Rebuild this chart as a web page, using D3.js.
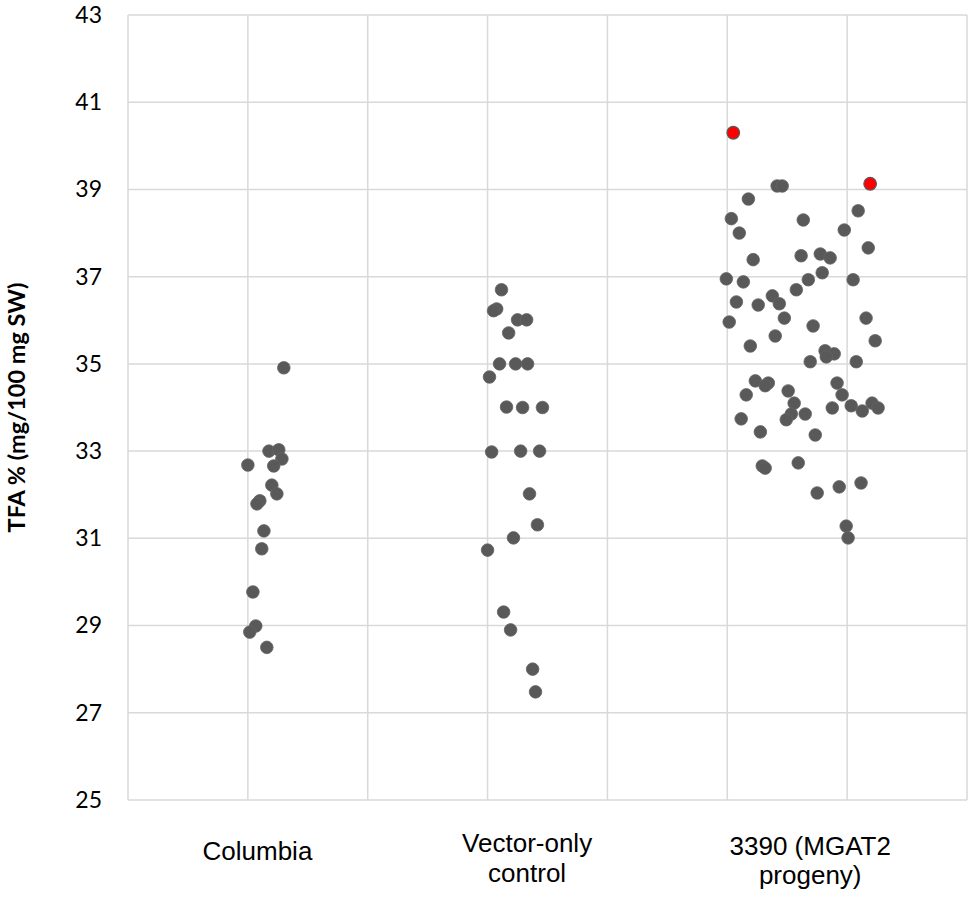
<!DOCTYPE html>
<html>
<head>
<meta charset="utf-8">
<script src="https://cdn.jsdelivr.net/npm/d3@7"></script>
<style>
	body { margin: 0; background: #fff; }
	svg { display: block; }
	.grid line { stroke: #d9d9d9; stroke-width: 1.5; }
	.ytick text { font-family: Lato, "Open Sans", sans-serif; font-size: 23px; fill: #000; }
	.cat text { font-family: "Liberation Sans", Arial, sans-serif; font-size: 26px; fill: #000; }
	.ytitle { font-family: Lato, "Open Sans", sans-serif; font-size: 23.5px; font-weight: bold; fill: #000; }
</style>
</head>
<body>
<svg id="chart"></svg>
<script>
const Width = 975;
const Height = 899;

// y range and ticks
const yDomain = [25, 43];
const yTicks = [25, 27, 29, 31, 33, 35, 37, 39, 41, 43];
// x is a numeric axis, groups sit at 1, 2, 3 with jitter
const xDomain = [0.5, 4];
const xGrid = [0.5, 1, 1.5, 2, 2.5, 3, 3.5, 4];

const categories = [
	["Columbia"],
	["Vector-only", "control"],
	["3390 (MGAT2", "progeny)"]
];
const categoryAt = [1.04, 2.165, 3.346];

// [x, TFA %]
const columbia = [
	[1.150, 34.91], [1.088, 33.00], [1.129, 33.03], [1.142, 32.82], [1.000, 32.68],
	[1.108, 32.66], [1.100, 32.22], [1.121, 32.02], [1.050, 31.86], [1.038, 31.79],
	[1.067, 31.17], [1.058, 30.76], [1.021, 29.77], [1.033, 28.99], [1.008, 28.85],
	[1.079, 28.50]
];
const vectorOnly = [
	[2.058, 36.70], [2.038, 36.26], [2.025, 36.22], [2.125, 36.01], [2.163, 36.01],
	[2.088, 35.71], [2.050, 35.00], [2.117, 35.00], [2.167, 35.00], [2.008, 34.70],
	[2.079, 34.01], [2.146, 34.00], [2.229, 34.00], [2.017, 32.98], [2.138, 33.00],
	[2.217, 33.00], [2.175, 32.02], [2.208, 31.31], [2.108, 31.01], [2.000, 30.73],
	[2.067, 29.31], [2.096, 28.90], [2.188, 28.00], [2.200, 27.48]
];
const progeny3390 = [
	[3.208, 39.08], [3.229, 39.08], [3.088, 38.78], [3.546, 38.51], [3.017, 38.33],
	[3.317, 38.30], [3.050, 38.00], [3.488, 38.07], [3.588, 37.66], [3.108, 37.39],
	[3.308, 37.48], [3.388, 37.52], [3.429, 37.43], [2.996, 36.95], [3.067, 36.88],
	[3.396, 37.09], [3.338, 36.93], [3.525, 36.93], [3.288, 36.70], [3.188, 36.56],
	[3.217, 36.38], [3.038, 36.42], [3.129, 36.35], [3.008, 35.96], [3.238, 36.05],
	[3.579, 36.05], [3.358, 35.87], [3.200, 35.64], [3.617, 35.53], [3.096, 35.41],
	[3.408, 35.30], [3.446, 35.23], [3.413, 35.16], [3.346, 35.05], [3.538, 35.05],
	[3.117, 34.61], [3.171, 34.56], [3.158, 34.50], [3.458, 34.56], [3.079, 34.29],
	[3.254, 34.38], [3.479, 34.29], [3.279, 34.10], [3.438, 33.99], [3.517, 34.04],
	[3.563, 33.92], [3.604, 34.10], [3.629, 33.99], [3.058, 33.74], [3.267, 33.85],
	[3.246, 33.72], [3.325, 33.85], [3.138, 33.44], [3.367, 33.37], [3.146, 32.66],
	[3.158, 32.61], [3.296, 32.73], [3.558, 32.27], [3.467, 32.18], [3.375, 32.04],
	[3.496, 31.28], [3.504, 31.01]
];
// the two progeny plants marked in red
const highlighted = [
	[3.025, 40.30], [3.596, 39.13]
];

const margin = { top: 15, right: 8, bottom: 99, left: 128 };
const svg = d3.select("#chart").attr("width", Width).attr("height", Height);

const x = d3.scaleLinear().domain(xDomain).range([margin.left, Width - margin.right]);
const y = d3.scaleLinear().domain(yDomain).range([Height - margin.bottom, margin.top]);

// grid first so the points cover it
const grid = svg.append("g").attr("class", "grid");
grid.selectAll("line.h").data(yTicks).enter().append("line").attr("class", "h")
	.attr("x1", x(xDomain[0])).attr("x2", x(xDomain[1]))
	.attr("y1", d => y(d)).attr("y2", d => y(d));
grid.selectAll("line.v").data(xGrid).enter().append("line").attr("class", "v")
	.attr("x1", d => x(d)).attr("x2", d => x(d))
	.attr("y1", y(yDomain[0])).attr("y2", y(yDomain[1]));

// y axis labels
const yaxis = svg.append("g").attr("class", "ytick")
	.attr("transform", `translate(${margin.left},0)`)
	.call(d3.axisLeft(y).tickValues(yTicks).tickSize(0).tickPadding(26));
yaxis.select(".domain").remove();

svg.append("text").attr("class", "ytitle")
	.attr("transform", `translate(25,${(y(yDomain[0]) + y(yDomain[1])) / 2}) rotate(-90)`)
	.attr("text-anchor", "middle")
	.text("TFA % (mg/100 mg SW)");

// category labels under the plot
const cat = svg.append("g").attr("class", "cat");
const catBase = [[860], [852, 882], [855, 884]];
categories.forEach((lines, i) => {
	const t = cat.append("text").attr("text-anchor", "middle");
	lines.forEach((l, j) => {
		t.append("tspan").attr("x", x(categoryAt[i])).attr("y", catBase[i][j]).text(l);
	});
});

// points
const pts = svg.append("g").attr("class", "points");
[columbia, vectorOnly, progeny3390].forEach(series => {
	pts.selectAll(null).data(series).enter().append("circle")
		.attr("cx", d => x(d[0])).attr("cy", d => y(d[1])).attr("r", 6.3)
		.attr("fill", "#595959").attr("stroke", "#656565").attr("stroke-width", 0.8);
});
pts.selectAll(null).data(highlighted).enter().append("circle")
	.attr("cx", d => x(d[0])).attr("cy", d => y(d[1])).attr("r", 6.3)
	.attr("fill", "#ff0000").attr("stroke", "#595959").attr("stroke-width", 1.2);
</script>
</body>
</html>
